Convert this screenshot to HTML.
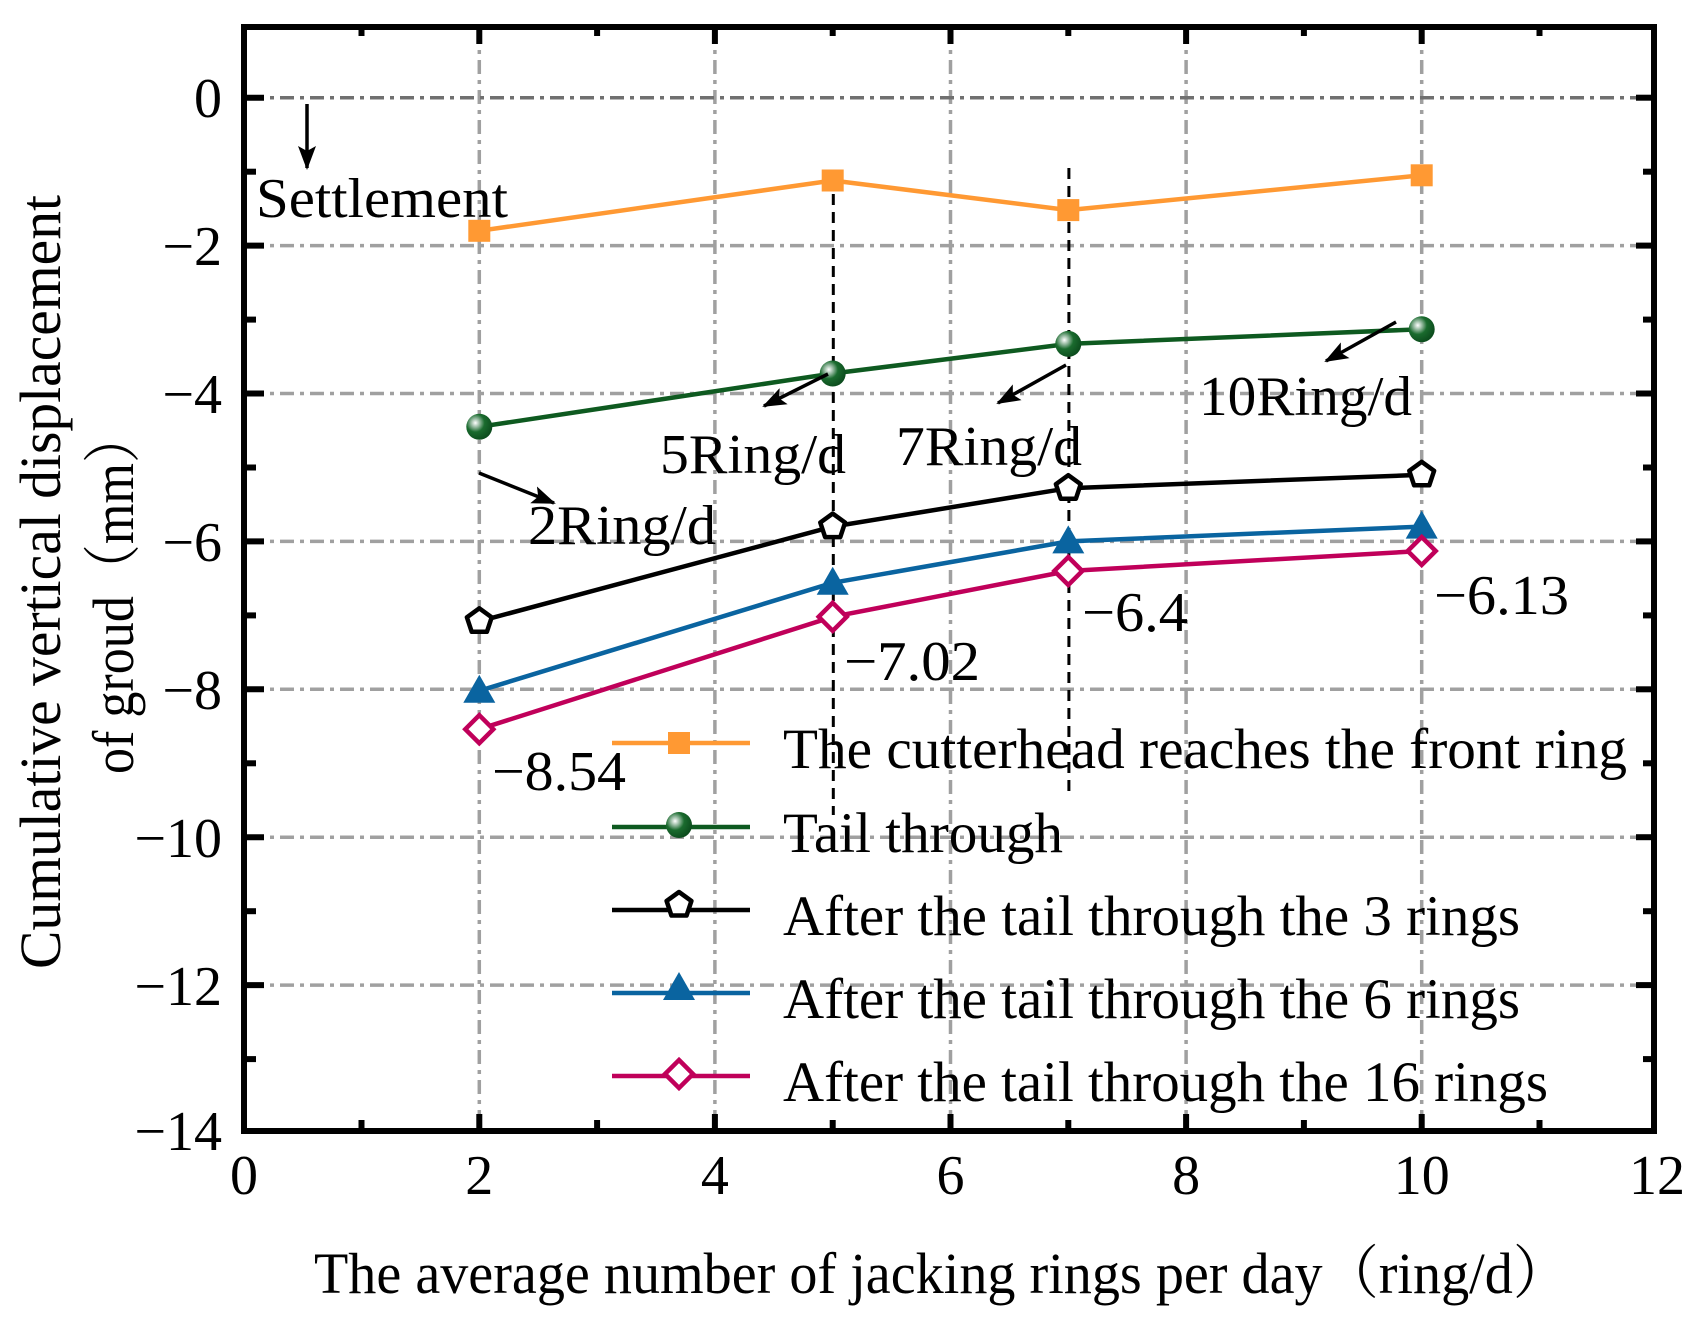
<!DOCTYPE html>
<html><head><meta charset="utf-8"><style>html,body{margin:0;padding:0;background:#fff}svg{display:block}text{font-family:"Liberation Serif","Noto Serif CJK SC",serif;fill:#000}</style></head>
<body>
<svg width="1697" height="1317" viewBox="0 0 1697 1317" xmlns="http://www.w3.org/2000/svg">
<defs>
<radialGradient id="gb" cx="0.35" cy="0.35" r="0.7">
<stop offset="0" stop-color="#ffffff"/><stop offset="0.25" stop-color="#8fb59a"/><stop offset="0.5" stop-color="#1a6b2e"/><stop offset="1" stop-color="#0b4a1c"/>
</radialGradient>
<marker id="ah2" markerWidth="24" markerHeight="18" refX="22" refY="9" orient="auto" markerUnits="userSpaceOnUse"><path d="M0,0 L24,9 L0,18 L5,9 Z" fill="#000"/></marker>
</defs>
<g stroke="#a0a0a0" stroke-width="3.5" stroke-dasharray="14,6,4,6" fill="none">
<line x1="479.3" y1="30" x2="479.3" y2="1128"/>
<line x1="714.9" y1="30" x2="714.9" y2="1128"/>
<line x1="950.5" y1="30" x2="950.5" y2="1128"/>
<line x1="1186.1" y1="30" x2="1186.1" y2="1128"/>
<line x1="1421.7" y1="30" x2="1421.7" y2="1128"/>
<line x1="250" y1="245.6" x2="1650" y2="245.6"/>
<line x1="250" y1="393.5" x2="1650" y2="393.5"/>
<line x1="250" y1="541.4" x2="1650" y2="541.4"/>
<line x1="250" y1="689.3" x2="1650" y2="689.3"/>
<line x1="250" y1="837.2" x2="1650" y2="837.2"/>
<line x1="250" y1="985.1" x2="1650" y2="985.1"/>
<line x1="250" y1="97.7" x2="1650" y2="97.7" stroke="#707070"/>
</g>
<g stroke="#000" stroke-width="3" stroke-dasharray="11,7">
<line x1="833.3" y1="176" x2="833.3" y2="815"/>
<line x1="1068.9" y1="168" x2="1068.9" y2="798"/>
</g>
<g fill="none" stroke-width="4.5">
<polyline stroke="#ff9933" points="479.3,230.8 832.7,180.5 1068.3,210.1 1421.7,175.3"/>
<polyline stroke="#0e5a20" points="479.3,426.8 832.7,373.5 1068.3,343.9 1421.7,329.2"/>
<polyline stroke="#000" points="479.3,621.3 832.7,526.6 1068.3,488.2 1421.7,474.8"/>
<polyline stroke="#0a64a0" points="479.3,690.8 832.7,582.8 1068.3,541.4 1421.7,526.6"/>
<polyline stroke="#c0005a" points="479.3,729.2 832.7,616.8 1068.3,571.0 1421.7,551.0"/>
</g>
<g fill="#ff9933">
<rect x="468.3" y="219.8" width="22" height="22"/><rect x="821.7" y="169.5" width="22" height="22"/><rect x="1057.3" y="199.1" width="22" height="22"/><rect x="1410.7" y="164.3" width="22" height="22"/>
</g>
<g fill="url(#gb)">
<circle cx="479.3" cy="426.8" r="13"/><circle cx="832.7" cy="373.5" r="13"/><circle cx="1068.3" cy="343.9" r="13"/><circle cx="1421.7" cy="329.2" r="13"/>
</g>
<g fill="#fff" stroke="#000" stroke-width="4.5" stroke-linejoin="round">
<polygon points="0,-13 12.4,-4 7.6,10.5 -7.6,10.5 -12.4,-4" transform="translate(479.3,621.3)"/>
<polygon points="0,-13 12.4,-4 7.6,10.5 -7.6,10.5 -12.4,-4" transform="translate(832.7,526.6)"/>
<polygon points="0,-13 12.4,-4 7.6,10.5 -7.6,10.5 -12.4,-4" transform="translate(1068.3,488.2)"/>
<polygon points="0,-13 12.4,-4 7.6,10.5 -7.6,10.5 -12.4,-4" transform="translate(1421.7,474.8)"/>
</g>
<g fill="#0a64a0">
<polygon points="0,-16 16,12 -16,12" transform="translate(479.3,690.8)"/>
<polygon points="0,-16 16,12 -16,12" transform="translate(832.7,582.8)"/>
<polygon points="0,-16 16,12 -16,12" transform="translate(1068.3,541.4)"/>
<polygon points="0,-16 16,12 -16,12" transform="translate(1421.7,526.6)"/>
</g>
<g fill="#fff" stroke="#c0005a" stroke-width="4.5">
<polygon points="0,-14 14,0 0,14 -14,0" transform="translate(479.3,729.2)"/>
<polygon points="0,-14 14,0 0,14 -14,0" transform="translate(832.7,616.8)"/>
<polygon points="0,-14 14,0 0,14 -14,0" transform="translate(1068.3,571.0)"/>
<polygon points="0,-14 14,0 0,14 -14,0" transform="translate(1421.7,551.0)"/>
</g>
<g stroke="#000" stroke-width="3.5">
<line x1="307" y1="104" x2="307" y2="168" marker-end="url(#ah2)"/>
<line x1="479" y1="473" x2="554" y2="503" marker-end="url(#ah2)"/>
<line x1="828" y1="374" x2="764" y2="406" marker-end="url(#ah2)"/>
<line x1="1066" y1="365" x2="998" y2="403" marker-end="url(#ah2)"/>
<line x1="1396" y1="322" x2="1326" y2="361" marker-end="url(#ah2)"/>
</g>
<g font-size="56">
<text x="256" y="217" textLength="252" lengthAdjust="spacingAndGlyphs">Settlement</text>
<text x="660" y="473" textLength="186" lengthAdjust="spacingAndGlyphs">5Ring/d</text>
<text x="896" y="465" textLength="186" lengthAdjust="spacingAndGlyphs">7Ring/d</text>
<text x="1199" y="415" textLength="213" lengthAdjust="spacingAndGlyphs">10Ring/d</text>
<text x="528" y="544" textLength="188" lengthAdjust="spacingAndGlyphs">2Ring/d</text>
<text x="492" y="790" textLength="134" lengthAdjust="spacingAndGlyphs">−8.54</text>
<text x="844" y="680" textLength="136" lengthAdjust="spacingAndGlyphs">−7.02</text>
<text x="1082" y="631" textLength="106" lengthAdjust="spacingAndGlyphs">−6.4</text>
<text x="1434" y="614" textLength="135" lengthAdjust="spacingAndGlyphs">−6.13</text>
</g>
<g stroke-width="4.5">
<line x1="612" y1="743" x2="750" y2="743" stroke="#ff9933"/><rect x="668" y="732" width="22" height="22" fill="#ff9933"/>
<line x1="612" y1="827" x2="750" y2="827" stroke="#0e5a20"/><circle cx="679" cy="825" r="13" fill="url(#gb)"/>
<line x1="612" y1="910" x2="750" y2="910" stroke="#000"/><polygon points="0,-13 12.4,-4 7.6,10.5 -7.6,10.5 -12.4,-4" transform="translate(679,905)" fill="#fff" stroke="#000" stroke-linejoin="round"/>
<line x1="612" y1="993" x2="750" y2="993" stroke="#0a64a0"/><polygon points="0,-16 16,12 -16,12" transform="translate(679,988)" fill="#0a64a0" stroke="none"/>
<line x1="612" y1="1076" x2="750" y2="1076" stroke="#c0005a"/><polygon points="0,-14 14,0 0,14 -14,0" transform="translate(679,1074)" fill="#fff" stroke="#c0005a"/>
</g>
<g font-size="57">
<text x="783" y="768" textLength="844" lengthAdjust="spacingAndGlyphs">The cutterhead reaches the front ring</text>
<text x="783" y="852" textLength="280" lengthAdjust="spacingAndGlyphs">Tail through</text>
<text x="783" y="935" textLength="737" lengthAdjust="spacingAndGlyphs">After the tail through the 3 rings</text>
<text x="783" y="1018" textLength="737" lengthAdjust="spacingAndGlyphs">After the tail through the 6 rings</text>
<text x="783" y="1101" textLength="765" lengthAdjust="spacingAndGlyphs">After the tail through the 16 rings</text>
</g>
<rect x="244" y="27" width="1410" height="1104" fill="none" stroke="#000" stroke-width="6"/>
<g stroke="#000" stroke-width="6">
<line x1="479.3" y1="1128" x2="479.3" y2="1114"/><line x1="714.9" y1="1128" x2="714.9" y2="1114"/><line x1="950.5" y1="1128" x2="950.5" y2="1114"/><line x1="1186.1" y1="1128" x2="1186.1" y2="1114"/><line x1="1421.7" y1="1128" x2="1421.7" y2="1114"/>
<line x1="361.5" y1="1128" x2="361.5" y2="1120"/><line x1="597.1" y1="1128" x2="597.1" y2="1120"/><line x1="832.7" y1="1128" x2="832.7" y2="1120"/><line x1="1068.3" y1="1128" x2="1068.3" y2="1120"/><line x1="1303.9" y1="1128" x2="1303.9" y2="1120"/><line x1="1539.5" y1="1128" x2="1539.5" y2="1120"/>
<line x1="479.3" y1="30" x2="479.3" y2="44"/><line x1="714.9" y1="30" x2="714.9" y2="44"/><line x1="950.5" y1="30" x2="950.5" y2="44"/><line x1="1186.1" y1="30" x2="1186.1" y2="44"/><line x1="1421.7" y1="30" x2="1421.7" y2="44"/>
<line x1="361.5" y1="30" x2="361.5" y2="36"/><line x1="597.1" y1="30" x2="597.1" y2="36"/><line x1="832.7" y1="30" x2="832.7" y2="36"/><line x1="1068.3" y1="30" x2="1068.3" y2="36"/><line x1="1303.9" y1="30" x2="1303.9" y2="36"/><line x1="1539.5" y1="30" x2="1539.5" y2="36"/>
</g>
<g stroke="#000" stroke-width="6">
<line x1="247" y1="97.7" x2="264" y2="97.7"/><line x1="247" y1="245.6" x2="264" y2="245.6"/><line x1="247" y1="393.5" x2="264" y2="393.5"/><line x1="247" y1="541.4" x2="264" y2="541.4"/><line x1="247" y1="689.3" x2="264" y2="689.3"/><line x1="247" y1="837.2" x2="264" y2="837.2"/><line x1="247" y1="985.1" x2="264" y2="985.1"/>
<line x1="247" y1="171.7" x2="256" y2="171.7"/><line x1="247" y1="319.6" x2="256" y2="319.6"/><line x1="247" y1="467.5" x2="256" y2="467.5"/><line x1="247" y1="615.4" x2="256" y2="615.4"/><line x1="247" y1="763.3" x2="256" y2="763.3"/><line x1="247" y1="911.2" x2="256" y2="911.2"/><line x1="247" y1="1059.1" x2="256" y2="1059.1"/>
<line x1="1651" y1="97.7" x2="1636" y2="97.7"/><line x1="1651" y1="245.6" x2="1636" y2="245.6"/><line x1="1651" y1="393.5" x2="1636" y2="393.5"/><line x1="1651" y1="541.4" x2="1636" y2="541.4"/><line x1="1651" y1="689.3" x2="1636" y2="689.3"/><line x1="1651" y1="837.2" x2="1636" y2="837.2"/><line x1="1651" y1="985.1" x2="1636" y2="985.1"/>
<line x1="1651" y1="171.7" x2="1643" y2="171.7"/><line x1="1651" y1="319.6" x2="1643" y2="319.6"/><line x1="1651" y1="467.5" x2="1643" y2="467.5"/><line x1="1651" y1="615.4" x2="1643" y2="615.4"/><line x1="1651" y1="763.3" x2="1643" y2="763.3"/><line x1="1651" y1="911.2" x2="1643" y2="911.2"/><line x1="1651" y1="1059.1" x2="1643" y2="1059.1"/>
</g>
<g font-size="56" text-anchor="end">
<text x="222" y="117">0</text>
<text x="222" y="265">−2</text>
<text x="222" y="413">−4</text>
<text x="222" y="561">−6</text>
<text x="222" y="709">−8</text>
<text x="222" y="857">−10</text>
<text x="222" y="1005">−12</text>
<text x="222" y="1150">−14</text>
</g>
<g font-size="56" text-anchor="middle">
<text x="244" y="1194">0</text>
<text x="479.3" y="1194">2</text>
<text x="714.9" y="1194">4</text>
<text x="950.5" y="1194">6</text>
<text x="1186.1" y="1194">8</text>
<text x="1421.7" y="1194">10</text>
<text x="1657" y="1194">12</text>
</g>
<text x="314" y="1293" font-size="58" textLength="1255" lengthAdjust="spacingAndGlyphs">The average number of jacking rings per day（ring/d）</text>
<text transform="translate(60,969) rotate(-90)" font-size="58" textLength="774" lengthAdjust="spacingAndGlyphs">Cumulative vertical displacement</text>
<text transform="translate(133,774) rotate(-90)" font-size="58" textLength="363" lengthAdjust="spacingAndGlyphs">of groud（mm）</text>
</svg>
</body></html>
